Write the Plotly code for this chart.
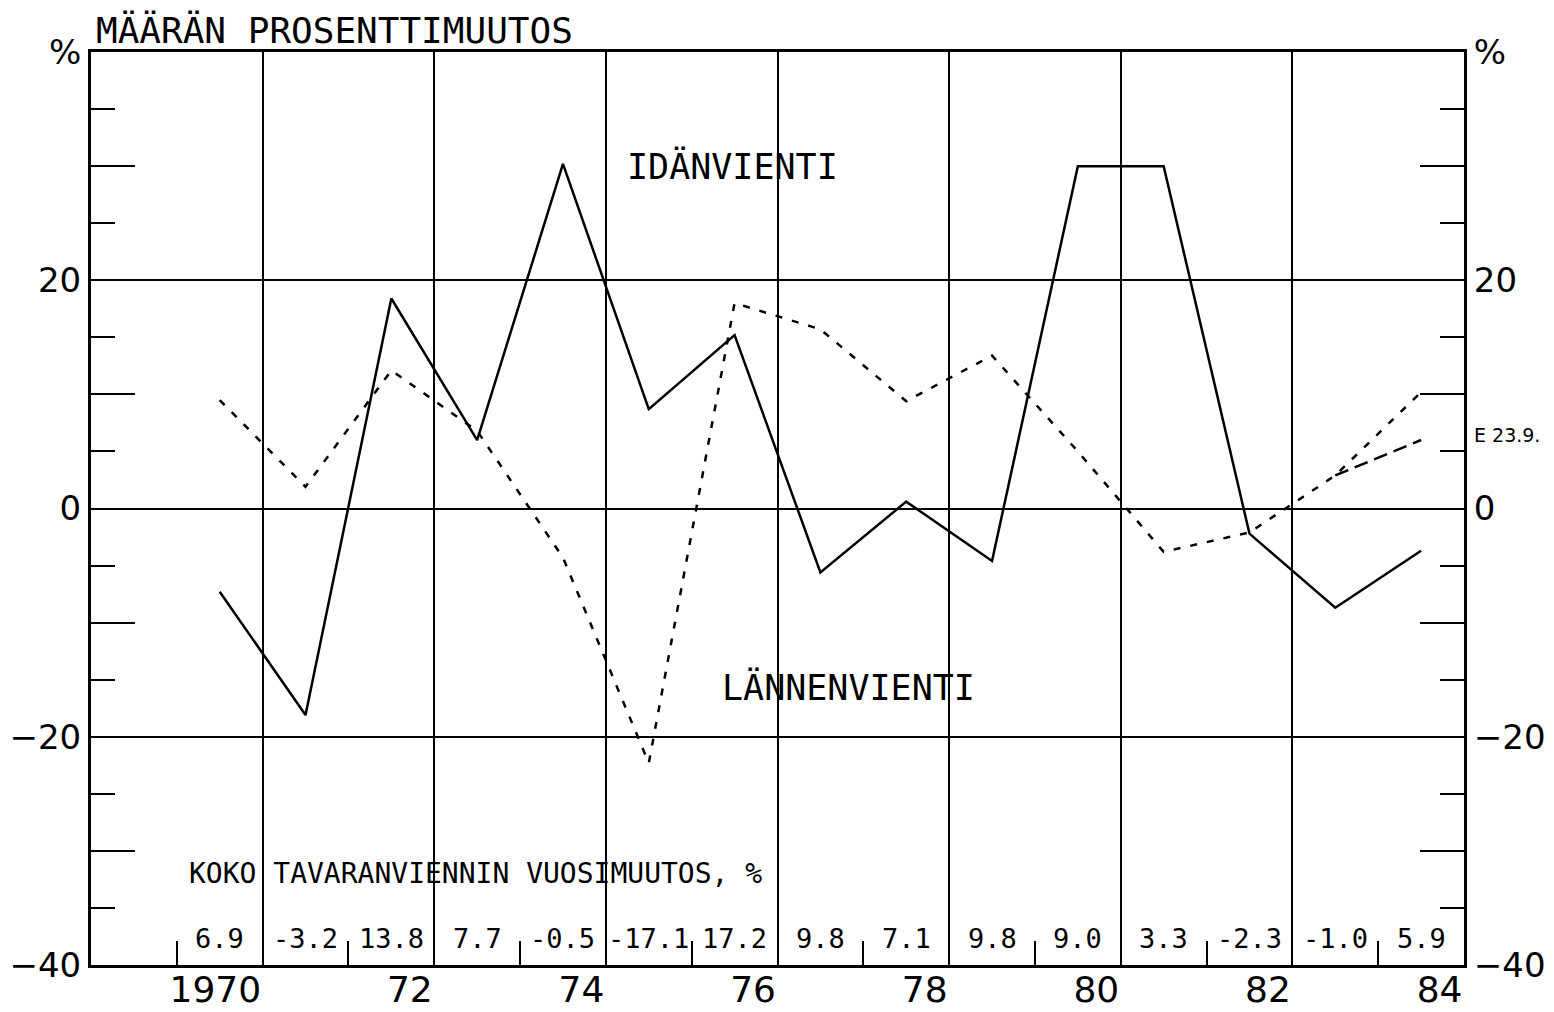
import plotly.graph_objects as go

# Annual volume change of exports, %
years = list(range(1970, 1985))
idanvienti = [-7.3, -18.1, 18.4, 6.0, 30.2, 8.7, 15.2, -5.6, 0.6, -4.6, 30.0, 30.0, -2.2, -8.7, -3.7]
lannenvienti = [9.5, 1.9, 12.1, 6.8, -4.3, -22.3, 18.0, 15.7, 9.4, 13.4, 5.0, -3.8, -2.1, 2.9, 10.2]
lannen_revised_years = [1983, 1984]
lannen_revised = [2.9, 6.0]
koko_vienti = [6.9, -3.2, 13.8, 7.7, -0.5, -17.1, 17.2, 9.8, 7.1, 9.8, 9.0, 3.3, -2.3, -1.0, 5.9]

year_tick_pos = [1970.5, 1972.5, 1974.5, 1976.5, 1978.5, 1980.5, 1982.5, 1984.5]
year_tick_text = ["1970", "72", "74", "76", "78", "80", "82", "84"]
y_label_vals = [-40, -20, 0, 20, 40]
y_label_text = ["\u221240", "\u221220", "0", "20", "%"]
y_tick_vals = [-40, -30, -20, -10, 0, 10, 20, 30, 40]
y_tick_text = ["\u221240", "", "\u221220", "", "0", "", "20", "", "%"]

MONO = "DejaVu Sans Mono"
SANS = "DejaVu Sans"
INK = "black"

fig = go.Figure()

fig.add_trace(go.Scatter(
    x=years, y=idanvienti, mode="lines",
    line=dict(color=INK, width=2.5), name="Idänvienti", showlegend=False,
))
fig.add_trace(go.Scatter(
    x=years, y=lannenvienti, mode="lines",
    line=dict(color=INK, width=2.5, dash="7px,10px"), name="Lännenvienti", showlegend=False,
))
fig.add_trace(go.Scatter(
    x=lannen_revised_years, y=lannen_revised, mode="lines", yaxis="y2",
    line=dict(color=INK, width=2.5, dash="14px,7px"), name="Lännenvienti (E 23.9.)", showlegend=False,
))

annotations = [
    dict(text="MÄÄRÄN PROSENTTIMUUTOS", xref="paper", yref="paper", x=0.002, y=1.024,
         xanchor="left", yanchor="middle", showarrow=False, font=dict(family=MONO, size=36, color=INK)),
    dict(text="IDÄNVIENTI", xref="x", yref="y", x=1974.72, y=30.0,
         xanchor="left", yanchor="middle", showarrow=False, font=dict(family=MONO, size=35, color=INK)),
    dict(text="LÄNNENVIENTI", xref="x", yref="y", x=1975.83, y=-15.7,
         xanchor="left", yanchor="middle", showarrow=False, font=dict(family=MONO, size=35, color=INK)),
    dict(text="KOKO TAVARANVIENNIN VUOSIMUUTOS, %", xref="x", yref="y", x=1969.62, y=-32.0,
         xanchor="left", yanchor="middle", showarrow=False, font=dict(family=MONO, size=28, color=INK)),
    dict(text="E 23.9.", xref="paper", yref="y", x=1.006, y=6.4,
         xanchor="left", yanchor="middle", showarrow=False, font=dict(family=SANS, size=19, color=INK)),
]
for yr, v in zip(years, koko_vienti):
    annotations.append(dict(
        text=f"{v:.1f}", xref="x", yref="y", x=yr, y=-37.7,
        xanchor="center", yanchor="middle", showarrow=False,
        font=dict(family=MONO, size=27, color=INK),
    ))

fig.update_layout(
    width=1554, height=1012, autosize=False,
    margin=dict(l=91, r=90, t=52, b=47, autoexpand=False),
    paper_bgcolor="white", plot_bgcolor="white",
    showlegend=False,
    annotations=annotations,
    xaxis=dict(
        range=[1968.5, 1984.5], automargin=False,
        tickmode="array", tickvals=year_tick_pos, ticktext=year_tick_text,
        ticklabelposition="outside left",
        ticklabelstandoff=-9,
        tickfont=dict(family=SANS, size=36, color=INK),
        ticks="",
        showgrid=True, gridcolor=INK, gridwidth=2,
        zeroline=False,
        showline=True, linecolor=INK, linewidth=3, mirror=True,
        minor=dict(tick0=1969.5, dtick=2, ticks="inside", ticklen=24, tickwidth=2,
                   tickcolor=INK, showgrid=False),
    ),
    yaxis=dict(
        range=[-40, 40], automargin=False,
        tickmode="array", tickvals=y_label_vals, ticktext=y_label_text,
        tickfont=dict(family=SANS, size=34, color=INK),
        ticks="",
        showgrid=True, gridcolor=INK, gridwidth=2,
        zeroline=False,
        showline=True, linecolor=INK, linewidth=3,
    ),
    yaxis2=dict(
        range=[-40, 40], overlaying="y", side="right", automargin=False,
        tickmode="array", tickvals=y_tick_vals, ticktext=y_tick_text,
        tickfont=dict(family=SANS, size=34, color=INK),
        ticks="inside", ticklen=44, tickwidth=2, tickcolor=INK,
        mirror="ticks",
        showgrid=False, zeroline=False,
        showline=True, linecolor=INK, linewidth=3,
        minor=dict(dtick=5, tick0=0, ticks="inside", ticklen=24, tickwidth=2,
                   tickcolor=INK, showgrid=False),
    ),
)

fig.write_html("out.html")
